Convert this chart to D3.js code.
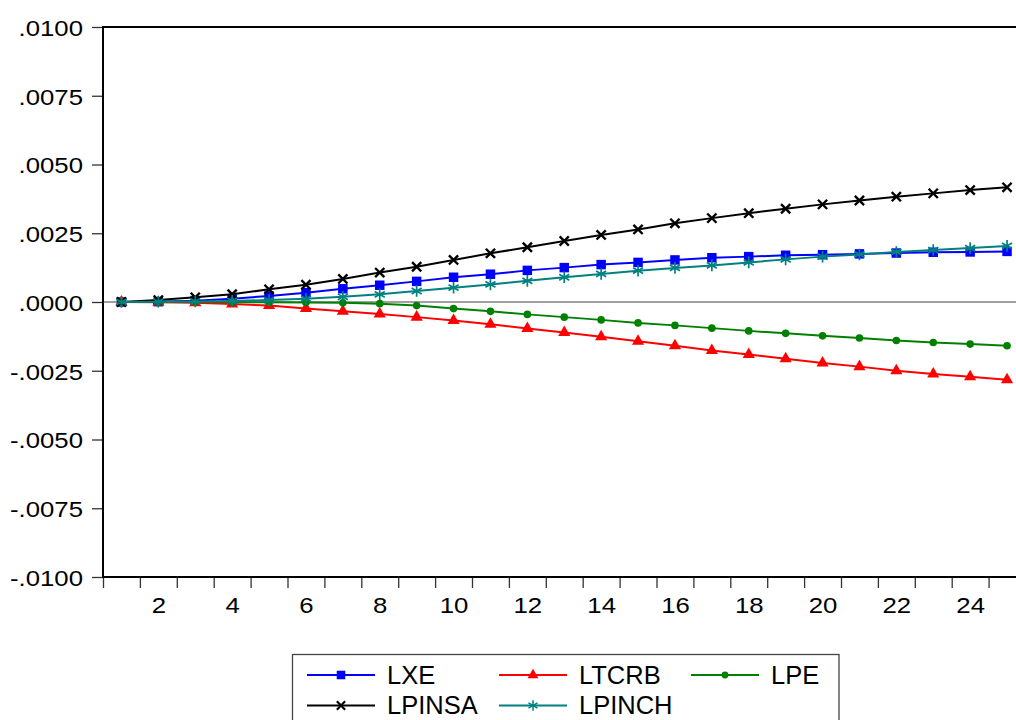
<!DOCTYPE html>
<html>
<head>
<meta charset="utf-8">
<script src="https://cdn.jsdelivr.net/npm/d3@7"></script>
<style>
  html, body { margin: 0; padding: 0; background: #ffffff; }
  svg { display: block; }
  text { font-family: "Liberation Sans", Arial, sans-serif; fill: #000; }
</style>
</head>
<body>
<svg id="chart" width="1016" height="720"></svg>
<script>
// ---- data ----
const periods = [1,2,3,4,5,6,7,8,9,10,11,12,13,14,15,16,17,18,19,20,21,22,23,24,25];
const seriesNames = ["LXE", "LTCRB", "LPE", "LPINSA", "LPINCH"];
const LXE = [0, 0.00001, 0.00005, 0.00012, 0.00022, 0.00034, 0.00048, 0.00061, 0.00075, 0.00090,
             0.00101, 0.00115, 0.00125, 0.00136, 0.00144, 0.00153, 0.00161, 0.00165, 0.00170, 0.00172,
             0.00175, 0.00178, 0.00181, 0.00182, 0.00184];
const LTCRB = [0, -0.00001, -0.00003, -0.00007, -0.00013, -0.00024, -0.00034, -0.00044, -0.00055, -0.00067,
               -0.00081, -0.00096, -0.00111, -0.00126, -0.00143, -0.00159, -0.00176, -0.00191, -0.00206, -0.00222,
               -0.00235, -0.00250, -0.00262, -0.00272, -0.00283];
const LPE = [0, 0.00001, 0.00001, 0.00000, -0.00001, -0.00002, -0.00003, -0.00006, -0.00013, -0.00024,
             -0.00034, -0.00045, -0.00055, -0.00065, -0.00076, -0.00085, -0.00095, -0.00105, -0.00114, -0.00123,
             -0.00131, -0.00140, -0.00147, -0.00153, -0.00159];
const LPINSA = [0, 0.00007, 0.00017, 0.00028, 0.00046, 0.00063, 0.00084, 0.00107, 0.00128, 0.00153,
                0.00177, 0.00199, 0.00222, 0.00244, 0.00264, 0.00286, 0.00305, 0.00323, 0.00339, 0.00355,
                0.00369, 0.00383, 0.00395, 0.00407, 0.00417];
const LPINCH = [0, 0.00001, 0.00002, 0.00004, 0.00007, 0.00012, 0.00019, 0.00028, 0.00040, 0.00052,
                0.00064, 0.00077, 0.00090, 0.00102, 0.00114, 0.00124, 0.00133, 0.00144, 0.00155, 0.00165,
                0.00173, 0.00182, 0.00189, 0.00196, 0.00204];
const yTickValues = [0.01, 0.0075, 0.005, 0.0025, 0, -0.0025, -0.005, -0.0075, -0.01];
const yTickLabels = [".0100", ".0075", ".0050", ".0025", ".0000", "-.0025", "-.0050", "-.0075", "-.0100"];
const xTickLabels = [2,4,6,8,10,12,14,16,18,20,22,24];

// ---- styles ----
const colors = { LXE: "#0000ff", LTCRB: "#ff0000", LPE: "#008000", LPINSA: "#000000", LPINCH: "#008080" };
const markers = { LXE: "square", LTCRB: "triangle", LPE: "circle", LPINSA: "cross", LPINCH: "star" };
const values = { LXE, LTCRB, LPE, LPINSA, LPINCH };

const svg = d3.select("#chart");
const L = 103, T = 27, B = 577;
const step = 36.9;
const R = L + step * periods.length;

const x = d3.scaleLinear().domain([0.5, periods.length + 0.5]).range([L, R]);
const y = d3.scaleLinear().domain([-0.01, 0.01]).range([B, T]);

// zero line
svg.append("line")
  .attr("x1", L).attr("x2", R)
  .attr("y1", y(0)).attr("y2", y(0))
  .attr("stroke", "#808080").attr("stroke-width", 1.5);

// y axis
const yAxis = d3.axisLeft(y).tickValues(yTickValues)
  .tickFormat((d, i) => yTickLabels[i]).tickSize(11).tickPadding(9);
const gy = svg.append("g").attr("transform", `translate(${L},0)`).call(yAxis);
gy.select(".domain").remove();
gy.selectAll(".tick line").attr("stroke", "#333").attr("stroke-width", 1.3);
gy.selectAll(".tick text")
  .attr("font-size", 23).attr("font-family", "Liberation Sans, Arial, sans-serif")
  .attr("dy", "0.36em")
  .attr("transform", "scale(1.12,1)")
  .attr("x", -20 / 1.12);

// x axis: ticks at period boundaries
const boundaries = periods.map(p => p - 0.5).concat([periods.length + 0.5]);
const xAxis = d3.axisBottom(x).tickValues(boundaries).tickFormat("").tickSize(11);
const gx = svg.append("g").attr("transform", `translate(0,${B})`).call(xAxis);
gx.select(".domain").remove();
gx.selectAll(".tick line").attr("stroke", "#333").attr("stroke-width", 1.3);

const xLab = d3.axisBottom(x).tickValues(xTickLabels).tickFormat(d => d).tickSize(0).tickPadding(20);
const gxl = svg.append("g").attr("transform", `translate(0,${B})`).call(xLab);
gxl.select(".domain").remove();
gxl.selectAll(".tick text")
  .attr("font-size", 23).attr("font-family", "Liberation Sans, Arial, sans-serif")
  .attr("x", 0).attr("transform", "scale(1.12,1)");

// frame: left, bottom, top
svg.append("line").attr("x1", L).attr("x2", L).attr("y1", T - 1).attr("y2", B + 1)
  .attr("stroke", "#000").attr("stroke-width", 2);
svg.append("line").attr("x1", L).attr("x2", R).attr("y1", B).attr("y2", B)
  .attr("stroke", "#000").attr("stroke-width", 2);
svg.append("line").attr("x1", L).attr("x2", R).attr("y1", T).attr("y2", T)
  .attr("stroke", "#000").attr("stroke-width", 2);

// markers
function drawMarker(g, type, color, cx, cy, scale) {
  const k = scale || 1;
  if (type === "square") {
    g.append("path").attr("d", d3.symbol(d3.symbolSquare, 90 * k * k)())
      .attr("transform", `translate(${cx},${cy})`).attr("fill", color);
  } else if (type === "triangle") {
    g.append("path").attr("d", d3.symbol(d3.symbolTriangle, 64 * k * k)())
      .attr("transform", `translate(${cx},${cy})`).attr("fill", color);
  } else if (type === "circle") {
    g.append("circle").attr("cx", cx).attr("cy", cy).attr("r", 3.8 * k).attr("fill", color);
  } else if (type === "cross") {
    const s = 4.6 * k;
    g.append("path").attr("d", `M${-s},${-s}L${s},${s}M${-s},${s}L${s},${-s}`)
      .attr("transform", `translate(${cx},${cy})`)
      .attr("stroke", color).attr("stroke-width", 2.4 * k).attr("fill", "none");
  } else if (type === "star") {
    const r = 5.8 * k, a = r * Math.cos(Math.PI / 6), b = r * Math.sin(Math.PI / 6);
    g.append("path").attr("d", `M0,${-r}L0,${r}M${-a},${-b}L${a},${b}M${-a},${b}L${a},${-b}`)
      .attr("transform", `translate(${cx},${cy})`)
      .attr("stroke", color).attr("stroke-width", 1.7 * k).attr("fill", "none");
  }
}

// series
const line = d3.line().x((d, i) => x(periods[i])).y(d => y(d));
seriesNames.forEach(name => {
  const g = svg.append("g");
  g.append("path").datum(values[name]).attr("d", line)
    .attr("fill", "none").attr("stroke", colors[name]).attr("stroke-width", 2);
  values[name].forEach((v, i) => drawMarker(g, markers[name], colors[name], x(periods[i]), y(v)));
});

// legend
const lg = svg.append("g");
lg.append("rect").attr("x", 292.5).attr("y", 654.5).attr("width", 546.5).attr("height", 100)
  .attr("fill", "#fff").attr("stroke", "#444").attr("stroke-width", 1.3);
const legendPos = [
  { name: "LXE", x: 307, y: 675 },
  { name: "LTCRB", x: 499, y: 675 },
  { name: "LPE", x: 691, y: 675 },
  { name: "LPINSA", x: 307, y: 705.5 },
  { name: "LPINCH", x: 499, y: 705.5 }
];
legendPos.forEach(p => {
  lg.append("line").attr("x1", p.x).attr("x2", p.x + 68).attr("y1", p.y).attr("y2", p.y)
    .attr("stroke", colors[p.name]).attr("stroke-width", 2);
  drawMarker(lg, markers[p.name], colors[p.name], p.x + 34, p.y, 0.9);
  lg.append("text").attr("x", p.x + 80).attr("y", p.y + 8.7)
    .attr("font-size", 25.5).text(p.name);
});
</script>
</body>
</html>
